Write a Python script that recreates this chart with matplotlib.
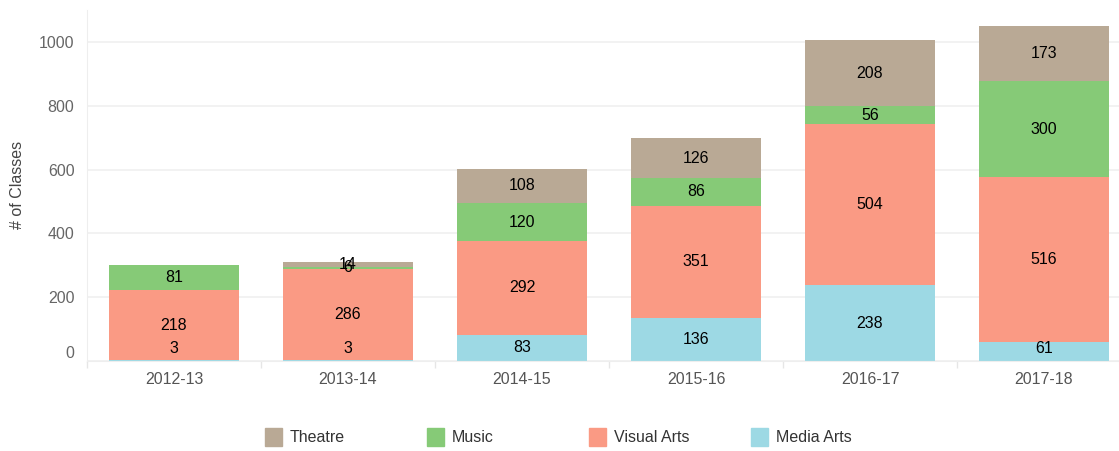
import numpy as np
import matplotlib
matplotlib.use('Agg')
import matplotlib.pyplot as plt
from matplotlib.patches import Rectangle

plt.rcParams['font.family'] = ['Liberation Sans', 'DejaVu Sans']

years = ['2012-13', '2013-14', '2014-15', '2015-16', '2016-17', '2017-18']
media_arts = [3, 3, 83, 136, 238, 61]
visual_arts = [218, 286, 292, 351, 504, 516]
music = [81, 6, 120, 86, 56, 300]
theatre = [0, 14, 108, 126, 208, 173]

# bottom to top stacking order
series = [('Media Arts', media_arts, '#9dd9e4'),
          ('Visual Arts', visual_arts, '#fa9a84'),
          ('Music', music, '#86ca77'),
          ('Theatre', theatre, '#b9a995')]

W, H = 1119, 451
fig = plt.figure(figsize=(W / 100, H / 100), dpi=100)
# plot area runs past the right edge of the picture, like the original
ax = fig.add_axes([87 / W, 90 / H, 1044 / W, 351 / H])

x = np.arange(len(years))
bottom = np.zeros(len(years))
for name, vals, color in series:
    vals = np.array(vals, dtype=float)
    ax.bar(x, vals, 0.747, bottom=bottom, color=color, zorder=2)
    for xi, b, v in zip(x, bottom, vals):
        if v <= 0:
            continue
        # keep tiny segment labels inside the plot
        yc = max(b + v / 2, 38)
        ax.text(xi, yc, '%d' % v, ha='center', va='center',
                fontsize=11.5, color='black', zorder=3)
    bottom += vals

ax.set_xlim(-0.5, len(years) - 0.5)
ax.set_ylim(0, 1100)

ax.set_yticks([0, 200, 400, 600, 800, 1000])
ax.yaxis.grid(True, color='#f0f0f0', linewidth=1.2, zorder=0)
ax.tick_params(axis='y', length=0, labelsize=11.5, labelcolor='#666666', pad=9)
# the zero label sits a bit above its gridline
for lab in ax.get_yticklabels():
    if lab.get_text() == '0':
        lab.set_va('bottom')

ax.set_xticks(x)
ax.set_xticklabels(years)
ax.tick_params(axis='x', length=0, labelsize=11.5, labelcolor='#555555', pad=8)
ax.set_xticks(np.arange(len(years) + 1) - 0.5, minor=True)
ax.tick_params(axis='x', which='minor', length=5, color='#e6e6e6', width=1)

for s in ['top', 'right']:
    ax.spines[s].set_visible(False)
ax.spines['left'].set_color('#eeeeee')
ax.spines['bottom'].set_color('#eeeeee')

fig.text(18 / W, 1 - 185 / H, '# of Classes', rotation=90, ha='center',
         va='center', fontsize=11.5, color='#444444')

# legend with fixed-width columns
for i, (name, vals, color) in enumerate(series[::-1]):
    x0 = 265 + i * 162
    fig.patches.append(Rectangle((x0 / W, 1 - 446 / H), 17 / W, 18 / H,
                                 transform=fig.transFigure, color=color))
    fig.text((x0 + 25) / W, 1 - 437 / H, name, ha='left', va='center',
             fontsize=11.5, color='#333333')

fig.savefig('out.png', dpi=100)
